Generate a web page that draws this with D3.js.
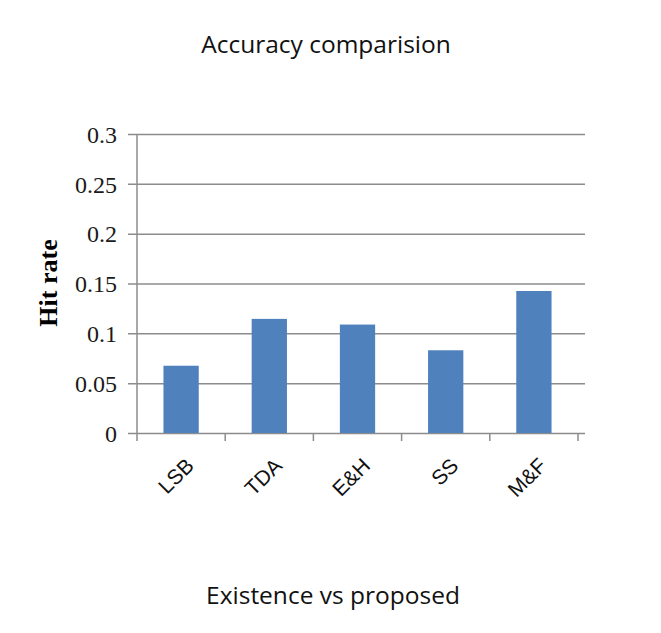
<!DOCTYPE html>
<html>
<head>
<meta charset="utf-8">
<script src="https://cdn.jsdelivr.net/npm/d3@7"></script>
<style>
  body { margin: 0; background: #fff; }
</style>
</head>
<body>
<div id="chart"></div>
<script>
var categories = ["LSB", "TDA", "E&H", "SS", "M&F"];
var hitRates = [0.0675, 0.1145, 0.1088, 0.083, 0.1425];
var yTicks = [0, 0.05, 0.1, 0.15, 0.2, 0.25, 0.3];

var svg = d3.select("#chart").append("svg")
  .attr("width", 661)
  .attr("height", 633);

var plot = { left: 137, right: 578, top: 134, bottom: 433, gridEnd: 585 };

var x = d3.scaleBand()
  .domain(categories)
  .range([plot.left, plot.right])
  .paddingInner(0.6)
  .paddingOuter(0.3);

var y = d3.scaleLinear()
  .domain([0, 0.3])
  .range([plot.bottom, plot.top]);

// Gridlines + value axis
var yAxis = d3.axisLeft(y)
  .tickValues(yTicks)
  .tickFormat(function(d) { return d === 0 ? "0" : String(+d.toFixed(2)); })
  .tickSize(-(plot.gridEnd - plot.left))
  .tickPadding(0);

var gy = svg.append("g")
  .attr("transform", "translate(" + plot.left + ",0)")
  .call(yAxis);

gy.select(".domain").remove();
gy.selectAll(".tick line")
  .attr("x1", -9)
  .attr("stroke", "#8c8c8c")
  .attr("stroke-width", 1.5);
gy.selectAll(".tick text")
  .attr("x", -20)
  .attr("dy", "0.34em")
  .attr("fill", "#1a1a1a")
  .style("font-family", "'Liberation Serif', 'Times New Roman', serif")
  .style("font-size", "24px");

// vertical axis line
svg.append("line")
  .attr("x1", plot.left).attr("x2", plot.left)
  .attr("y1", y(0.3)).attr("y2", y(0))
  .attr("stroke", "#8c8c8c")
  .attr("stroke-width", 1.5);

// Bars
svg.append("g")
  .selectAll("rect")
  .data(categories)
  .enter().append("rect")
    .attr("x", function(d) { return x(d); })
    .attr("y", function(d, i) { return y(hitRates[i]); })
    .attr("width", x.bandwidth())
    .attr("height", function(d, i) { return y(0) - y(hitRates[i]); })
    .attr("fill", "#4f81bd");

// Category ticks at band edges
var edges = categories.map(function(d) { return x(d) - x.step() * 0.3; });
edges.push(plot.right);
svg.append("g")
  .selectAll("line")
  .data(edges)
  .enter().append("line")
    .attr("x1", function(d) { return d; })
    .attr("x2", function(d) { return d; })
    .attr("y1", plot.bottom)
    .attr("y2", plot.bottom + 8)
    .attr("stroke", "#8c8c8c")
    .attr("stroke-width", 1.5);

// Category labels, rotated
svg.append("g")
  .selectAll("text")
  .data(categories)
  .enter().append("text")
    .attr("transform", function(d) {
      return "translate(" + (x(d) + x.bandwidth() / 2 + 14) + "," + (plot.bottom + 34) + ") rotate(-45)";
    })
    .attr("text-anchor", "end")
    .attr("fill", "#111")
    .style("font-family", "'Liberation Sans', Arial, sans-serif")
    .style("font-size", "21px")
    .text(function(d) { return d; });

// Axis title (value)
svg.append("text")
  .attr("transform", "translate(57,283) rotate(-90)")
  .attr("text-anchor", "middle")
  .attr("fill", "#000")
  .style("font-family", "'Liberation Serif', 'Times New Roman', serif")
  .style("font-weight", "bold")
  .style("font-size", "26px")
  .text("Hit rate");

// Chart title
svg.append("text")
  .attr("x", 326)
  .attr("y", 53)
  .attr("text-anchor", "middle")
  .attr("fill", "#111")
  .style("font-family", "'Open Sans', sans-serif")
  .style("font-size", "24.5px")
  .text("Accuracy comparision");

// Bottom caption
svg.append("text")
  .attr("x", 333)
  .attr("y", 604)
  .attr("text-anchor", "middle")
  .attr("fill", "#111")
  .style("font-family", "'Open Sans', sans-serif")
  .style("font-size", "24.5px")
  .text("Existence vs proposed");
</script>
</body>
</html>
